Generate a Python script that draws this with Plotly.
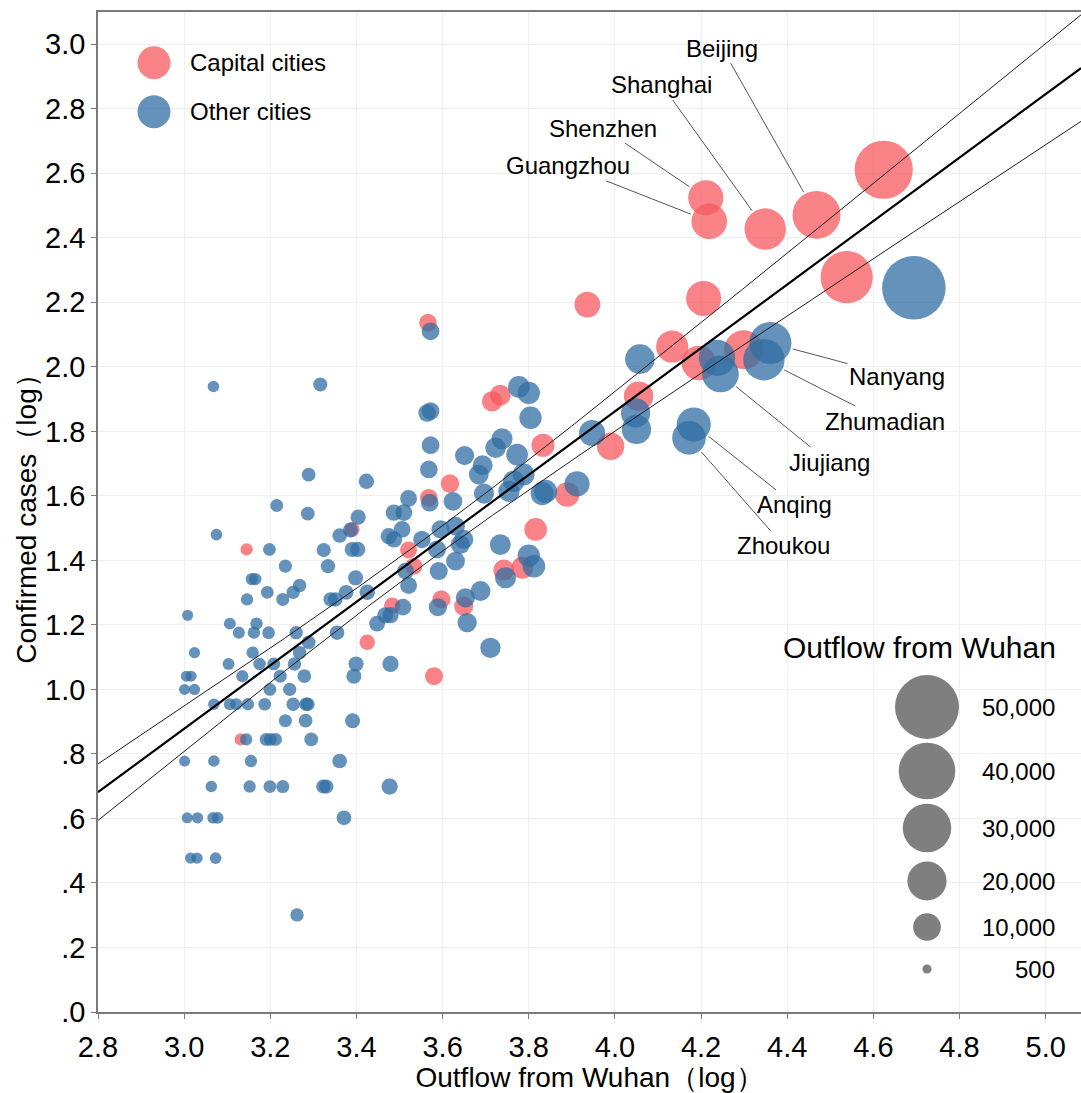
import numpy as np
import plotly.graph_objects as go

# ---------------- data ----------------
# log10 outflow from Wuhan (x) and log10 confirmed cases (y)
capital_x = [4.624, 4.468, 4.349, 4.211, 4.219, 4.538, 4.206, 3.936, 3.566, 4.299,
             4.195, 4.133, 4.055, 3.715, 3.734, 3.990, 3.833, 3.617, 3.889, 3.568,
             3.390, 3.816, 3.521, 3.742, 3.785, 3.533, 3.649, 3.597, 3.483, 3.425,
             3.580, 3.145, 3.131]
capital_y = [2.611, 2.471, 2.427, 2.524, 2.451, 2.278, 2.212, 2.193, 2.137, 2.053,
             2.012, 2.063, 1.909, 1.893, 1.912, 1.754, 1.757, 1.638, 1.604, 1.594,
             1.496, 1.496, 1.432, 1.370, 1.377, 1.382, 1.258, 1.279, 1.260, 1.146,
             1.041, 1.434, 0.845]
capital_names = ["", "Beijing", "Shanghai", "Shenzhen", "Guangzhou"] + [""] * 28

other_x = [4.361, 4.346, 4.245, 4.183, 4.172,
           4.694, 4.237, 4.058, 4.048, 4.050, 3.947, 3.912, 3.572, 3.316, 3.068,
           3.564, 3.572, 3.777, 3.800, 3.804, 3.572, 3.651, 3.738, 3.723, 3.773,
           3.568, 3.693, 3.684, 3.788, 3.765, 3.289, 3.423, 3.754, 3.696, 3.839,
           3.831, 3.521, 3.570, 3.624, 3.287, 3.404, 3.487, 3.510, 3.215, 3.075,
           3.506, 3.386, 3.361, 3.475, 3.487, 3.595, 3.630, 3.649, 3.641, 3.552,
           3.587, 3.734, 3.324, 3.390, 3.403, 3.198, 3.630, 3.800, 3.812, 3.746,
           3.334, 3.398, 3.235, 3.514, 3.591, 3.688, 3.653, 3.657, 3.711, 3.157,
           3.165, 3.521, 3.268, 3.008, 3.467, 3.479, 3.146, 3.229, 3.340, 3.351,
           3.193, 3.253, 3.376, 3.425, 3.508, 3.589, 3.448, 3.106, 3.168, 3.127,
           3.162, 3.196, 3.260, 3.355, 3.289, 3.024, 3.159, 3.268, 3.103, 3.175,
           3.208, 3.256, 3.399, 3.479, 3.394, 3.005, 3.016, 3.135, 3.223, 3.279,
           3.001, 3.024, 3.199, 3.245,
           3.069, 3.106, 3.121, 3.148, 3.187, 3.253, 3.283, 3.287,
           3.235, 3.282, 3.391,
           3.144, 3.190, 3.200, 3.212, 3.295,
           3.001, 3.069, 3.155, 3.361,
           3.063, 3.152, 3.199, 3.229, 3.323, 3.330, 3.477,
           3.007, 3.031, 3.067, 3.078, 3.371,
           3.015, 3.030, 3.073,
           3.262]
other_y = [2.074, 2.022, 1.978, 1.821, 1.780,
           2.245, 2.028, 2.024, 1.857, 1.806, 1.795, 1.637, 2.110, 1.945, 1.939,
           1.857, 1.863, 1.938, 1.919, 1.842, 1.757, 1.725, 1.777, 1.749, 1.728,
           1.682, 1.695, 1.666, 1.666, 1.645, 1.666, 1.645, 1.614, 1.607, 1.614,
           1.607, 1.592, 1.579, 1.583, 1.545, 1.534, 1.548, 1.548, 1.570, 1.480,
           1.496, 1.494, 1.477, 1.475, 1.465, 1.496, 1.506, 1.465, 1.449, 1.465,
           1.434, 1.449, 1.432, 1.434, 1.434, 1.434, 1.398, 1.415, 1.382, 1.346,
           1.382, 1.346, 1.382, 1.367, 1.367, 1.305, 1.284, 1.207, 1.129, 1.342,
           1.342, 1.322, 1.322, 1.230, 1.230, 1.230, 1.279, 1.279, 1.279, 1.279,
           1.301, 1.301, 1.301, 1.301, 1.255, 1.255, 1.204, 1.204, 1.204, 1.176,
           1.176, 1.176, 1.176, 1.176, 1.146, 1.114, 1.114, 1.114, 1.079, 1.079,
           1.079, 1.079, 1.079, 1.079, 1.041, 1.041, 1.041, 1.041, 1.041, 1.041,
           1.000, 1.000, 1.000, 1.000,
           0.954, 0.954, 0.954, 0.954, 0.954, 0.954, 0.954, 0.954,
           0.903, 0.903, 0.903,
           0.845, 0.845, 0.845, 0.845, 0.845,
           0.778, 0.778, 0.778, 0.778,
           0.699, 0.699, 0.699, 0.699, 0.699, 0.699, 0.699,
           0.602, 0.602, 0.602, 0.602, 0.602,
           0.477, 0.477, 0.477,
           0.301]
other_names = ["Nanyang", "Zhumadian", "Jiujiang", "Anqing", "Zhoukou"] + [""] * (len(other_x) - 5)

legend_outflow = [50000, 40000, 30000, 20000, 10000, 500]
legend_labels = ["50,000", "40,000", "30,000", "20,000", "10,000", "500"]

x_tickvals = [2.8, 3.0, 3.2, 3.4, 3.6, 3.8, 4.0, 4.2, 4.4, 4.6, 4.8, 5.0]
x_ticktext = ["2.8", "3.0", "3.2", "3.4", "3.6", "3.8", "4.0", "4.2", "4.4", "4.6", "4.8", "5.0"]
y_tickvals = [0.0, 0.2, 0.4, 0.6, 0.8, 1.0, 1.2, 1.4, 1.6, 1.8, 2.0, 2.2, 2.4, 2.6, 2.8, 3.0]
y_ticktext = [".0", ".2", ".4", ".6", ".8", "1.0", "1.2", "1.4", "1.6", "1.8",
              "2.0", "2.2", "2.4", "2.6", "2.8", "3.0"]

# fitted regression line and confidence band
FIT_SLOPE = 0.9836
FIT_INTERCEPT = -2.0726
BAND_A, BAND_B, BAND_XM = 0.0015, 0.01098, 3.55

# ---------------- styling / layout ----------------
W, H = 1081, 1093
ML, MR, MT, MB = 98, 0, 12, 81
X_RANGE = [2.8, 5.082]
Y_RANGE = [0.0, 3.1]
FONT = "Liberation Sans, Arial, sans-serif"
RED = "rgb(247,88,95)"
BLUE = "rgb(48,110,163)"
OPAC = 0.75

# label text positions (data coords) for annotated cities
LABEL_POS = {
    "Beijing": (4.249, 2.988), "Shanghai": (4.109, 2.874), "Shenzhen": (3.972, 2.740),
    "Guangzhou": (3.891, 2.623), "Nanyang": (4.655, 1.969), "Zhumadian": (4.627, 1.832),
    "Jiujiang": (4.497, 1.705), "Anqing": (4.418, 1.572), "Zhoukou": (4.392, 1.445),
}
# size legend layout (pixel coords on overlay axes)
SIZE_LEG_X = 927
SIZE_LEG_ROWS_Y = [707, 771, 828, 881, 927, 969]
SIZE_LEG_LABEL_X = 1057


def diam(logx):
    """marker diameter (px) from outflow"""
    o = 10.0 ** np.asarray(logx, dtype=float)
    return 0.0888 * o ** 0.6 + 5.4


fig = go.Figure()

fig.add_trace(go.Scatter(
    x=capital_x, y=capital_y, mode="markers", name="Capital cities",
    marker=dict(size=diam(capital_x), color=RED, opacity=OPAC, line=dict(width=0)),
    showlegend=False, hoverinfo="x+y"))
fig.add_trace(go.Scatter(
    x=other_x, y=other_y, mode="markers", name="Other cities",
    marker=dict(size=diam(other_x), color=BLUE, opacity=OPAC, line=dict(width=0)),
    showlegend=False, hoverinfo="x+y"))

# regression line and band
xs = np.linspace(X_RANGE[0], X_RANGE[1], 300)
mid = FIT_SLOPE * xs + FIT_INTERCEPT
half = np.sqrt(BAND_A + BAND_B * (xs - BAND_XM) ** 2)
fig.add_trace(go.Scatter(x=xs, y=mid + half, mode="lines", line=dict(color="#1a1a1a", width=1),
                         showlegend=False, hoverinfo="skip"))
fig.add_trace(go.Scatter(x=xs, y=mid - half, mode="lines", line=dict(color="#1a1a1a", width=1),
                         showlegend=False, hoverinfo="skip"))
fig.add_trace(go.Scatter(x=xs, y=mid, mode="lines", line=dict(color="black", width=2.2),
                         showlegend=False, hoverinfo="skip"))

# ---- colour legend (drawn on pixel overlay axes) ----
fig.add_trace(go.Scatter(
    x=[154, 154], y=[62.7, 111.7], xaxis="x2", yaxis="y2", mode="markers",
    marker=dict(size=33, color=[RED, BLUE], opacity=OPAC, line=dict(width=0)),
    showlegend=False, hoverinfo="skip"))

annotations = []
for txt, yy in [("Capital cities", 62.7), ("Other cities", 111.7)]:
    annotations.append(dict(x=188, y=yy, xref="x2", yref="y2", text=txt, showarrow=False,
                            xanchor="left", yanchor="middle",
                            font=dict(family=FONT, size=24, color="black")))

# ---- size legend ----
fig.add_trace(go.Scatter(
    x=[SIZE_LEG_X] * len(legend_outflow), y=SIZE_LEG_ROWS_Y, xaxis="x2", yaxis="y2",
    mode="markers",
    marker=dict(size=diam(np.log10(legend_outflow)), color="#7f7f7f", opacity=1, line=dict(width=0)),
    showlegend=False, hoverinfo="skip"))
annotations.append(dict(x=SIZE_LEG_LABEL_X + 1, y=647, xref="x2", yref="y2",
                        text="Outflow from Wuhan", showarrow=False,
                        xanchor="right", yanchor="middle",
                        font=dict(family=FONT, size=30, color="black")))
for lab, yy in zip(legend_labels, SIZE_LEG_ROWS_Y):
    annotations.append(dict(x=SIZE_LEG_LABEL_X, y=yy, xref="x2", yref="y2", text=lab,
                            showarrow=False, xanchor="right", yanchor="middle",
                            font=dict(family=FONT, size=24, color="black")))

# ---- city labels ----
for xs_, ys_, ns_ in [(capital_x, capital_y, capital_names), (other_x, other_y, other_names)]:
    for xv, yv, nm in zip(xs_, ys_, ns_):
        if not nm:
            continue
        lx, ly = LABEL_POS[nm]
        annotations.append(dict(
            x=xv, y=yv, xref="x", yref="y", ax=lx, ay=ly, axref="x", ayref="y",
            text=nm, showarrow=True, arrowhead=0, arrowwidth=1, arrowcolor="#555555",
            standoff=float(diam(xv)) / 2 + 2,
            font=dict(family=FONT, size=24, color="black")))

axis_common = dict(showgrid=True, gridcolor="#efefef", gridwidth=1, zeroline=False,
                   showline=True, linecolor="#7a7a7a", linewidth=1.5,
                   ticks="outside", ticklen=5, tickwidth=1, tickcolor="#7a7a7a",
                   tickfont=dict(family=FONT, size=29, color="black"))

fig.update_layout(
    width=W, height=H,
    margin=dict(l=ML, r=MR, t=MT, b=MB, autoexpand=False),
    paper_bgcolor="white", plot_bgcolor="white",
    font=dict(family=FONT, color="black"),
    showlegend=False,
    xaxis=dict(range=X_RANGE, tickvals=x_tickvals, ticktext=x_ticktext, mirror=True,
               ticklabelstandoff=3,
               title=dict(text="Outflow from Wuhan（log）", standoff=8,
                          font=dict(family=FONT, size=28, color="black")),
               **axis_common),
    yaxis=dict(range=Y_RANGE, tickvals=y_tickvals, ticktext=y_ticktext,
               title=dict(text="Confirmed cases（log）", standoff=0,
                          font=dict(family=FONT, size=28, color="black")),
               **axis_common),
    xaxis2=dict(overlaying="x", range=[ML, W - MR], visible=False, fixedrange=True),
    yaxis2=dict(overlaying="y", range=[H - MB, MT], visible=False, fixedrange=True),
    annotations=annotations,
)

fig.write_html("out.html", config={"displayModeBar": False},
               post_script="document.body.style.margin='0';document.body.style.overflow='hidden';")
